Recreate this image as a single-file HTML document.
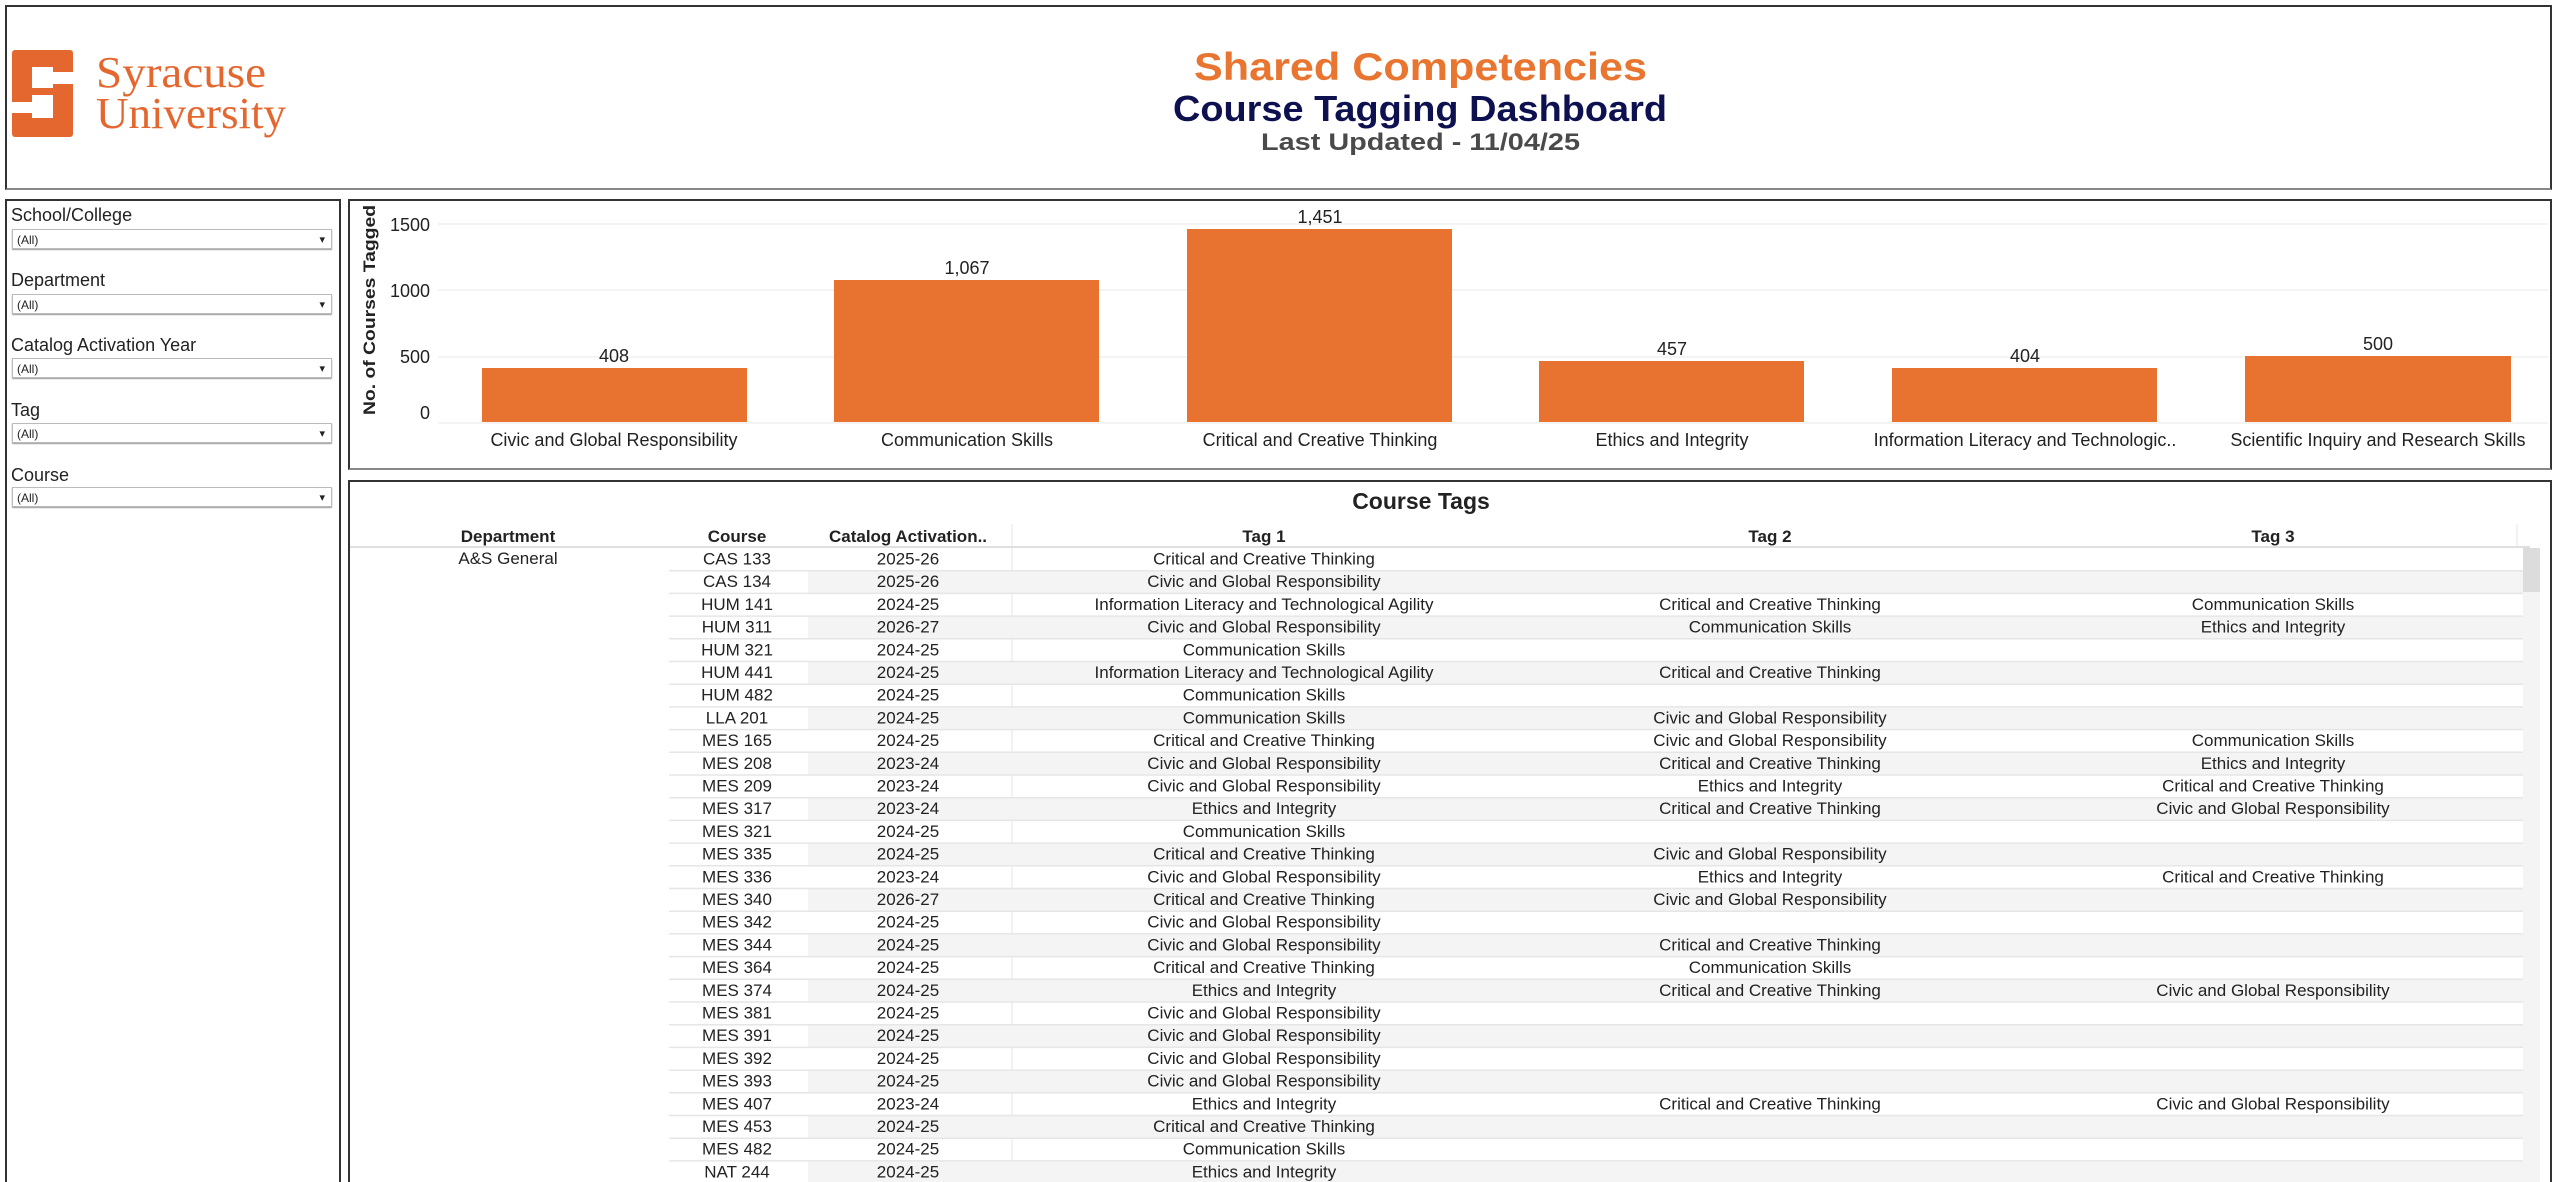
<!DOCTYPE html>
<html><head><meta charset="utf-8"><style>
html,body{margin:0;padding:0;background:#fff;width:2560px;height:1182px;overflow:hidden;}
body{position:relative;font-family:"Liberation Sans",sans-serif;}
.box{position:absolute;border:2px solid #333;border-bottom-color:#888;box-sizing:border-box;background:#fff}
.open{border-bottom:none}
.lbl{position:absolute;left:11px;font-size:18px;color:#222}
.dd{position:absolute;left:12px;width:320px;height:20px;border:1px solid #bbb;box-shadow:0 1px 1px #999;font-size:12px;line-height:20px;padding-left:4px;box-sizing:border-box;color:#222}
.dd:after{content:"▾";position:absolute;right:6px;top:0;font-size:11px}
</style></head><body>
<div class="box" style="left:5px;top:5px;width:2547px;height:185px"></div>
<svg style="position:absolute;left:0;top:0" width="2560" height="200">
  <rect x="12" y="50" width="61" height="87" rx="3" fill="#E4672F"/>
  <g fill="#fff">
    <rect x="32" y="72" width="42" height="12"/><rect x="32" y="67" width="21" height="21"/>
    <rect x="11" y="102" width="42" height="11"/><rect x="32" y="95" width="21" height="23"/>
  </g>
  <text x="96" y="87" font-family="Liberation Serif,serif" font-size="44" fill="#E4672F" textLength="170" lengthAdjust="spacingAndGlyphs">Syracuse</text>
  <text x="96" y="128" font-family="Liberation Serif,serif" font-size="44" fill="#E4672F" textLength="190" lengthAdjust="spacingAndGlyphs">University</text>
  <text x="1194" y="80" font-weight="bold" font-size="39" fill="#E87530" textLength="453" lengthAdjust="spacingAndGlyphs">Shared Competencies</text>
  <text x="1173" y="121" font-weight="bold" font-size="36" fill="#0E1150" textLength="494" lengthAdjust="spacingAndGlyphs">Course Tagging Dashboard</text>
  <text x="1261" y="150" font-weight="bold" font-size="24" fill="#4a4a4a" textLength="319" lengthAdjust="spacingAndGlyphs">Last Updated - 11/04/25</text>
</svg>
<div class="box open" style="left:5px;top:199px;width:336px;height:983px"></div>
<div class="lbl" style="top:205px">School/College</div><div class="dd" style="top:229px">(All)</div>
<div class="lbl" style="top:270px">Department</div><div class="dd" style="top:294px">(All)</div>
<div class="lbl" style="top:335px">Catalog Activation Year</div><div class="dd" style="top:358px">(All)</div>
<div class="lbl" style="top:400px">Tag</div><div class="dd" style="top:423px">(All)</div>
<div class="lbl" style="top:465px">Course</div><div class="dd" style="top:487px">(All)</div>
<div class="box" style="left:348px;top:199px;width:2204px;height:271px"></div>
<svg style="position:absolute;left:0;top:0" width="2560" height="480" font-size="18" fill="#222">
  <g stroke="#f0f0f0" stroke-width="1.5"><line x1="438" x2="2548" y1="224" y2="224"/><line x1="438" x2="2548" y1="290" y2="290"/><line x1="438" x2="2548" y1="357" y2="357"/><line x1="438" x2="2548" y1="423" y2="423"/></g>
  <g text-anchor="end"><text x="430" y="231">1500</text><text x="430" y="297">1000</text><text x="430" y="363">500</text><text x="430" y="419">0</text></g>
  <text transform="translate(375,310) rotate(-90)" text-anchor="middle" font-weight="bold" font-size="17" textLength="210" lengthAdjust="spacingAndGlyphs">No. of Courses Tagged</text>
  <g fill="#E8722F">
    <rect x="482" y="368" width="265" height="54"/>
    <rect x="834" y="280" width="265" height="142"/>
    <rect x="1187" y="229" width="265" height="193"/>
    <rect x="1539" y="361" width="265" height="61"/>
    <rect x="1892" y="368" width="265" height="54"/>
    <rect x="2245" y="356" width="266" height="66"/>
  </g>
  <g text-anchor="middle">
    <text x="614" y="362">408</text><text x="967" y="274">1,067</text><text x="1320" y="223">1,451</text>
    <text x="1672" y="355">457</text><text x="2025" y="362">404</text><text x="2378" y="350">500</text>
    <text x="614" y="446">Civic and Global Responsibility</text>
    <text x="967" y="446">Communication Skills</text>
    <text x="1320" y="446">Critical and Creative Thinking</text>
    <text x="1672" y="446">Ethics and Integrity</text>
    <text x="2025" y="446">Information Literacy and Technologic..</text>
    <text x="2378" y="446">Scientific Inquiry and Research Skills</text>
  </g>
</svg>
<div class="box open" style="left:348px;top:480px;width:2204px;height:702px"></div>
<svg id="tb" style="position:absolute;left:0;top:0" width="2560" height="1182" font-size="17" fill="#222" text-anchor="middle">
  <text x="1421" y="509" font-weight="bold" font-size="23">Course Tags</text>
  <line x1="1012" x2="1012" y1="524" y2="1182" stroke="#e4e4e4"/>
  <line x1="2517" x2="2517" y1="524" y2="547" stroke="#e4e4e4"/>
  <g font-weight="bold"><text x="508" y="542">Department</text><text x="737" y="542">Course</text><text x="908" y="542">Catalog Activation..</text><text x="1264" y="542">Tag 1</text><text x="1770" y="542">Tag 2</text><text x="2273" y="542">Tag 3</text></g>
  <line x1="350" x2="2530" y1="547" y2="547" stroke="#e0e0e0" stroke-width="2"/>
  <rect x="2523" y="548" width="17" height="634" fill="#f4f4f4"/>
  <rect x="2523" y="548" width="17" height="44" fill="#dcdcdc"/>
  <text x="508" y="564">A&amp;S General</text>
  <g id="rows"></g>
</svg>
<script>
var C="Critical and Creative Thinking",G="Civic and Global Responsibility",M="Communication Skills",E="Ethics and Integrity",I="Information Literacy and Technological Agility";
var d=[["CAS 133","2025-26",C],["CAS 134","2025-26",G],["HUM 141","2024-25",I,C,M],["HUM 311","2026-27",G,M,E],["HUM 321","2024-25",M],["HUM 441","2024-25",I,C],["HUM 482","2024-25",M],["LLA 201","2024-25",M,G],["MES 165","2024-25",C,G,M],["MES 208","2023-24",G,C,E],["MES 209","2023-24",G,E,C],["MES 317","2023-24",E,C,G],["MES 321","2024-25",M],["MES 335","2024-25",C,G],["MES 336","2023-24",G,E,C],["MES 340","2026-27",C,G],["MES 342","2024-25",G],["MES 344","2024-25",G,C],["MES 364","2024-25",C,M],["MES 374","2024-25",E,C,G],["MES 381","2024-25",G],["MES 391","2024-25",G],["MES 392","2024-25",G],["MES 393","2024-25",G],["MES 407","2023-24",E,C,G],["MES 453","2024-25",C],["MES 482","2024-25",M],["NAT 244","2024-25",E]];
var s="",xs=[737,908,1264,1770,2273],h=22.7;
d.forEach(function(r,i){var y=548+i*h;
 if(i%2==1)s+='<rect x="808" y="'+y+'" width="1715" height="'+h+'" fill="#f4f4f4"/>';
 if(i>0)s+='<line x1="669" x2="2523" y1="'+y+'" y2="'+y+'" stroke="#e6e6e6" stroke-width="1.5"/>';
 for(var j=0;j<r.length;j++)if(r[j])s+='<text x="'+xs[j]+'" y="'+(y+16.5)+'">'+r[j]+'</text>';});
document.getElementById("rows").innerHTML=s;
</script>
</body></html>
